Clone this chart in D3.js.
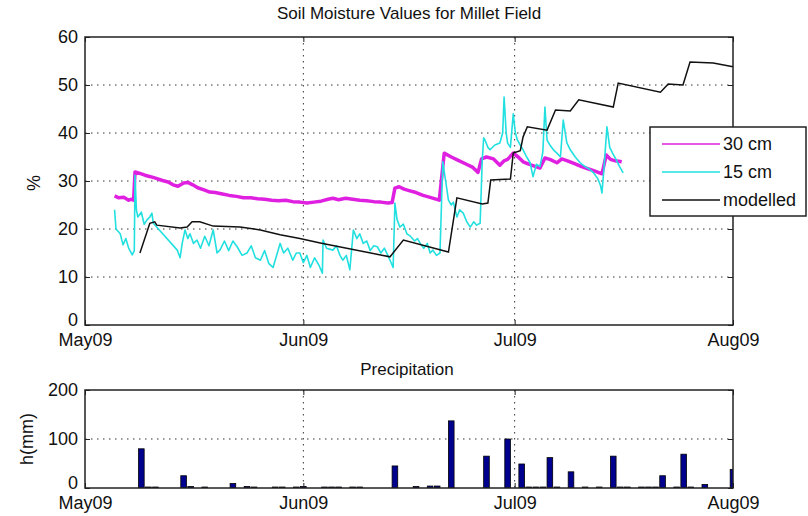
<!DOCTYPE html>
<html>
<head>
<meta charset="utf-8">
<script src="https://cdn.jsdelivr.net/npm/d3@7.9.0/dist/d3.min.js"></script>
<style>
  body { margin: 0; background: #fff; }
  svg { display: block; font-family: "Liberation Sans", Arial, sans-serif; }
  .tick text { font-size: 18px; fill: #111; }
</style>
</head>
<body>
<svg id="chart" width="808" height="516"></svg>
<script>
// x values are days after 1 May 2009
const monthLabels = ["May09", "Jun09", "Jul09", "Aug09"];
const monthDays = [0, 31, 61, 92];
const moistTicks = [0, 10, 20, 30, 40, 50, 60];
const rainTicks = [0, 100, 200];
const seriesNames = ["30 cm", "15 cm", "modelled"];

const cm30Days = [4.2, 4.8, 5.5, 6.2, 6.6, 6.9, 7.1, 7.8, 8.5, 9.3, 10, 11, 11.8, 12.5, 13.2, 14, 14.6, 15.3, 16, 17, 17.7, 18.5, 19.5, 20.5, 21.5, 22.5, 23.5, 24.5, 25.5, 26.5, 27.5, 28.5, 29.5, 30.5, 31.5, 32.5, 33.5, 34.5, 35.2, 36, 37, 38, 39, 40, 41, 42, 43, 43.6, 44, 44.6, 45.3, 46, 47, 48, 49, 50.3, 51, 52, 53, 54, 55, 55.8, 56.3, 57, 58, 58.9, 59.5, 60, 60.8, 61.5, 62.2, 63, 64, 64.6, 65.3, 66, 67, 67.7, 68.5, 69.5, 70.5, 71.5, 72.5, 73.4, 74, 74.6, 75.3, 76.2];
const cm30Vals = [26.9, 26.5, 26.6, 26.0, 26.2, 26.0, 31.9, 31.6, 31.2, 30.9, 30.6, 30.1, 29.8, 29.2, 28.9, 29.6, 29.7, 29.2, 28.6, 28.1, 27.7, 27.6, 27.3, 27.0, 26.8, 26.5, 26.5, 26.3, 26.2, 26.0, 25.9, 26.0, 25.7, 25.6, 25.4, 25.6, 25.8, 26.2, 26.4, 26.1, 26.4, 26.2, 26.0, 25.9, 25.7, 25.6, 25.4, 25.5, 28.5, 28.8, 28.3, 28.0, 27.6, 27.0, 26.6, 26.0, 35.8, 35.0, 34.3, 33.6, 32.9, 31.8, 34.6, 35.0, 34.6, 33.3, 34.2, 34.5, 35.8, 35.0, 34.0, 33.5, 33.0, 32.7, 34.8, 34.5, 33.8, 34.6, 34.2, 33.6, 33.0, 32.5, 32.0, 31.5, 35.4, 34.5, 34.2, 34.0];

const cm15Days = [4.2, 4.4, 5.0, 5.4, 5.8, 6.2, 6.7, 7.0, 7.1, 7.3, 7.5, 8.0, 8.4, 8.8, 9.2, 9.5, 9.7, 13.1, 13.5, 13.8, 14.2, 14.6, 14.9, 15.4, 15.9, 16.4, 17, 17.6, 18.2, 18.75, 19.2, 19.8, 20.4, 21.0, 21.6, 22.3, 23, 23.6, 24.2, 24.9, 25.5, 26.1, 26.7, 27.2, 27.7, 28.2, 28.8, 29.5, 30.0, 30.5, 31.0, 31.5, 32, 32.6, 33.2, 33.7, 33.8, 34.3, 35.2, 35.7, 36.2, 36.6, 37.1, 37.6, 38.1, 38.6, 39.0, 39.5, 40.0, 40.5, 41, 41.5, 42, 42.5, 43, 43.3, 43.75, 44.0, 44.3, 44.7, 45.2, 45.7, 46.2, 46.8, 47.2, 47.6, 48.1, 48.6, 49, 49.4, 49.9, 50.4, 50.8, 51.2, 51.6, 52, 52.3, 52.8, 53.2, 53.7, 54.2, 54.7, 55.2, 55.6, 56.1, 56.4, 56.6, 56.8, 57.2, 57.5, 58.2, 58.9, 59.3, 59.5, 59.8, 60, 60.4, 60.8, 61.1, 61.4, 61.8, 62.2, 62.7, 63.2, 63.6, 64.1, 64.6, 65.0, 65.3, 65.6, 66.0, 66.5, 67, 67.5, 67.9, 68.4, 68.9, 69.6, 70.3, 71, 71.6, 72.2, 72.8, 73.2, 73.4, 73.7, 74.1, 74.5, 74.9, 75.4, 75.9, 76.4];
const cm15Vals = [24, 20, 19, 16.7, 18, 16, 14.6, 15.5, 31.2, 24, 22.5, 23.5, 21, 21.9, 22.5, 23.3, 21.2, 15.6, 14, 17, 19.8, 18, 19, 17, 17.7, 16, 18.5, 16.5, 19.8, 15, 15.7, 17.5, 15.5, 17.5, 16.3, 14.5, 15, 16.5, 14, 13.5, 15.5, 12.8, 12, 14.5, 17, 15, 16, 13.5, 15, 15, 13, 14.5, 12, 14, 12.5, 10.8, 17.7, 16, 15.6, 16.5, 14.5, 13.5, 14.5, 11.5, 19.8, 18, 19, 17, 17.5, 15.5, 16.5, 16.3, 15, 16, 14.5, 13.5, 12, 25.4, 22, 20.4, 21, 19, 18.5, 17.5, 18, 17, 16, 17, 15, 15.6, 14.5, 15, 34, 30, 26, 25, 25.6, 22.5, 24, 23.3, 21.5, 20.4, 21.5, 20.8, 21.2, 34.4, 39, 38.5, 37, 36.5, 37.5, 37.9, 40, 47.5, 40, 37.9, 37, 44, 40, 38.5, 37.5, 36.5, 35, 33.8, 30.9, 33.5, 33, 36, 45.4, 38.5, 37.5, 36.5, 35.8, 35, 42.7, 38, 36.5, 35, 33.8, 33, 32.5, 31.7, 30.5, 29, 27.5, 33, 41.3, 37, 35.8, 34.5, 33, 31.7];

const modelDays = [7.8, 9.2, 9.9, 10.2, 13.5, 14.5, 15.2, 16.3, 18.2, 22, 24.9, 27.7, 30.5, 33.4, 43.3, 45.2, 51.6, 52.8, 56.4, 57.2, 57.6, 60.4, 60.8, 61.8, 62.2, 62.8, 65.6, 66.8, 68.9, 70.1, 75, 75.7, 81.7, 82.8, 84.9, 85.9, 89.2, 92];
const modelVals = [15, 21.2, 21.5, 20.8, 20.2, 20.4, 21.5, 21.5, 20.6, 20.4, 19.8, 18.8, 18, 17.1, 14.2, 17.7, 15.2, 26.5, 25.2, 25.4, 30.2, 30.4, 35.8, 36.3, 39.2, 41.3, 40.6, 44.8, 44.6, 46.9, 45.4, 50.4, 48.5, 50.2, 50, 54.8, 54.6, 53.8];

const rainDays = [8, 9, 10, 14, 15, 17, 21, 23, 24, 27, 28, 30, 31, 34, 35, 36, 38, 39, 44, 47, 49, 50, 52, 57, 60, 62, 63, 64, 65, 66, 67, 69, 71, 73, 75, 76, 77, 79, 80, 81, 82, 84, 85, 86, 88, 92];
const rainMm = [80, 2, 2, 25, 3, 2, 9, 3, 2, 2, 2, 2, 3, 2, 2, 2, 2, 2, 45, 3, 4, 4, 137, 65, 100, 49, 2, 2, 2, 62, 2, 33, 2, 2, 65, 2, 2, 2, 2, 2, 25, 2, 69, 2, 7, 38];

const start = Date.UTC(2009, 4, 1);
const toDate = (d) => new Date(start + d * 864e5);

const svg = d3.select('#chart');
const left = 85, right = 733;
const top1 = { top: 37, bottom: 325 };
const bot1 = { top: 390, bottom: 488 };

const x = d3.scaleUtc().domain([toDate(0), toDate(92)]).range([left, right]);
const y = d3.scaleLinear().domain([0, 60]).range([top1.bottom, top1.top]);
const yR = d3.scaleLinear().domain([0, 200]).range([bot1.bottom, bot1.top]);

svg.append('defs').append('clipPath').attr('id', 'clipBot')
  .append('rect').attr('x', left).attr('y', bot1.top).attr('width', right - left).attr('height', bot1.bottom - bot1.top);

function drawFrame(yScale, area, gridVals) {
  // dotted grid
  const g = svg.append('g');
  g.selectAll('.hg').data(gridVals).join('line')
    .attr('x1', left).attr('x2', right)
    .attr('y1', (d) => yScale(d)).attr('y2', (d) => yScale(d))
    .attr('stroke', '#333').attr('stroke-width', 1).attr('stroke-dasharray', '1.5,4.5');
  g.selectAll('.vg').data(monthDays.slice(1, 3)).join('line')
    .attr('x1', (d) => x(toDate(d))).attr('x2', (d) => x(toDate(d)))
    .attr('y1', area.top).attr('y2', area.bottom)
    .attr('stroke', '#333').attr('stroke-width', 1).attr('stroke-dasharray', '1.5,4.5');
}

function drawAxes(yScale, ticks, area) {
  const xAxis = d3.axisBottom(x)
    .tickValues(monthDays.map(toDate))
    .tickFormat((d, i) => monthLabels[i])
    .tickSizeInner(-5).tickSizeOuter(0).tickPadding(10);
  const xa = svg.append('g').attr('transform', `translate(0,${area.bottom})`).call(xAxis);
  const xTop = d3.axisTop(x).tickValues(monthDays.map(toDate)).tickFormat('').tickSizeInner(-5).tickSizeOuter(0);
  svg.append('g').attr('transform', `translate(0,${area.top})`).call(xTop);
  const yAxis = d3.axisLeft(yScale).tickValues(ticks).tickSizeInner(-5).tickSizeOuter(0).tickPadding(7);
  const ya = svg.append('g').attr('transform', `translate(${left},0)`).call(yAxis);
  ya.selectAll('text').filter((d) => d === 0).attr('dy', '0.05em');
  const yRight = d3.axisRight(yScale).tickValues(ticks).tickFormat('').tickSizeInner(-5).tickSizeOuter(0);
  svg.append('g').attr('transform', `translate(${right},0)`).call(yRight);
  svg.selectAll('.domain').remove();
  svg.selectAll('.tick line').attr('stroke', '#222');
  svg.append('rect')
    .attr('x', left).attr('y', area.top)
    .attr('width', right - left).attr('height', area.bottom - area.top)
    .attr('fill', 'none').attr('stroke', '#222').attr('stroke-width', 1.5);
  xa.selectAll('text').attr('dy', '0.6em');
}

// ---- soil moisture panel
drawFrame(y, top1, [10, 20, 30, 40, 50]);

const line = d3.line().x((d) => x(toDate(d[0]))).y((d) => y(d[1]));

svg.append('path').datum(d3.zip(cm30Days, cm30Vals))
  .attr('d', line).attr('fill', 'none').attr('stroke', '#e020e0').attr('stroke-width', 3.5)
  .attr('stroke-linejoin', 'round');
svg.append('path').datum(d3.zip(cm15Days, cm15Vals))
  .attr('d', line).attr('fill', 'none').attr('stroke', '#22e0e0').attr('stroke-width', 1.6)
  .attr('stroke-linejoin', 'round');
svg.append('path').datum(d3.zip(modelDays, modelVals))
  .attr('d', line).attr('fill', 'none').attr('stroke', '#111').attr('stroke-width', 1.5);

drawAxes(y, moistTicks, top1);

svg.append('text').attr('x', 409).attr('y', 19).attr('text-anchor', 'middle')
  .attr('font-size', 17).attr('fill', '#111').text('Soil Moisture Values for Millet Field');
svg.append('text').attr('transform', 'translate(40,183) rotate(-90)').attr('text-anchor', 'middle')
  .attr('font-size', 18).attr('fill', '#111').text('%');

// legend
const lg = svg.append('g').attr('transform', 'translate(650,127)');
lg.append('rect').attr('width', 156).attr('height', 89).attr('fill', '#fff').attr('stroke', '#222').attr('stroke-width', 1.5);
const legendColors = ['#e020e0', '#22e0e0', '#111'];
seriesNames.forEach((name, i) => {
  const yy = 17 + i * 28;
  lg.append('line').attr('x1', 12).attr('x2', 70).attr('y1', yy).attr('y2', yy)
    .attr('stroke', legendColors[i]).attr('stroke-width', 1.6);
  lg.append('text').attr('x', 73).attr('y', yy + 6).attr('font-size', 18).attr('fill', '#111').text(name);
});

// ---- precipitation panel
drawFrame(yR, bot1, [100]);

const barW = x(toDate(0.8)) - x(toDate(0));
svg.append('g').attr('clip-path', 'url(#clipBot)')
  .selectAll('rect').data(d3.zip(rainDays, rainMm)).join('rect')
  .attr('x', (d) => x(toDate(d[0])) - barW / 2)
  .attr('y', (d) => yR(d[1]))
  .attr('width', barW)
  .attr('height', (d) => yR(0) - yR(d[1]))
  .attr('fill', '#00008f').attr('stroke', '#000').attr('stroke-width', 0.8);

drawAxes(yR, rainTicks, bot1);

svg.append('text').attr('x', 407).attr('y', 375).attr('text-anchor', 'middle')
  .attr('font-size', 17).attr('fill', '#111').text('Precipitation');
svg.append('text').attr('transform', 'translate(33,439) rotate(-90)').attr('text-anchor', 'middle')
  .attr('font-size', 18).attr('fill', '#111').text('h(mm)');
</script>
</body>
</html>
